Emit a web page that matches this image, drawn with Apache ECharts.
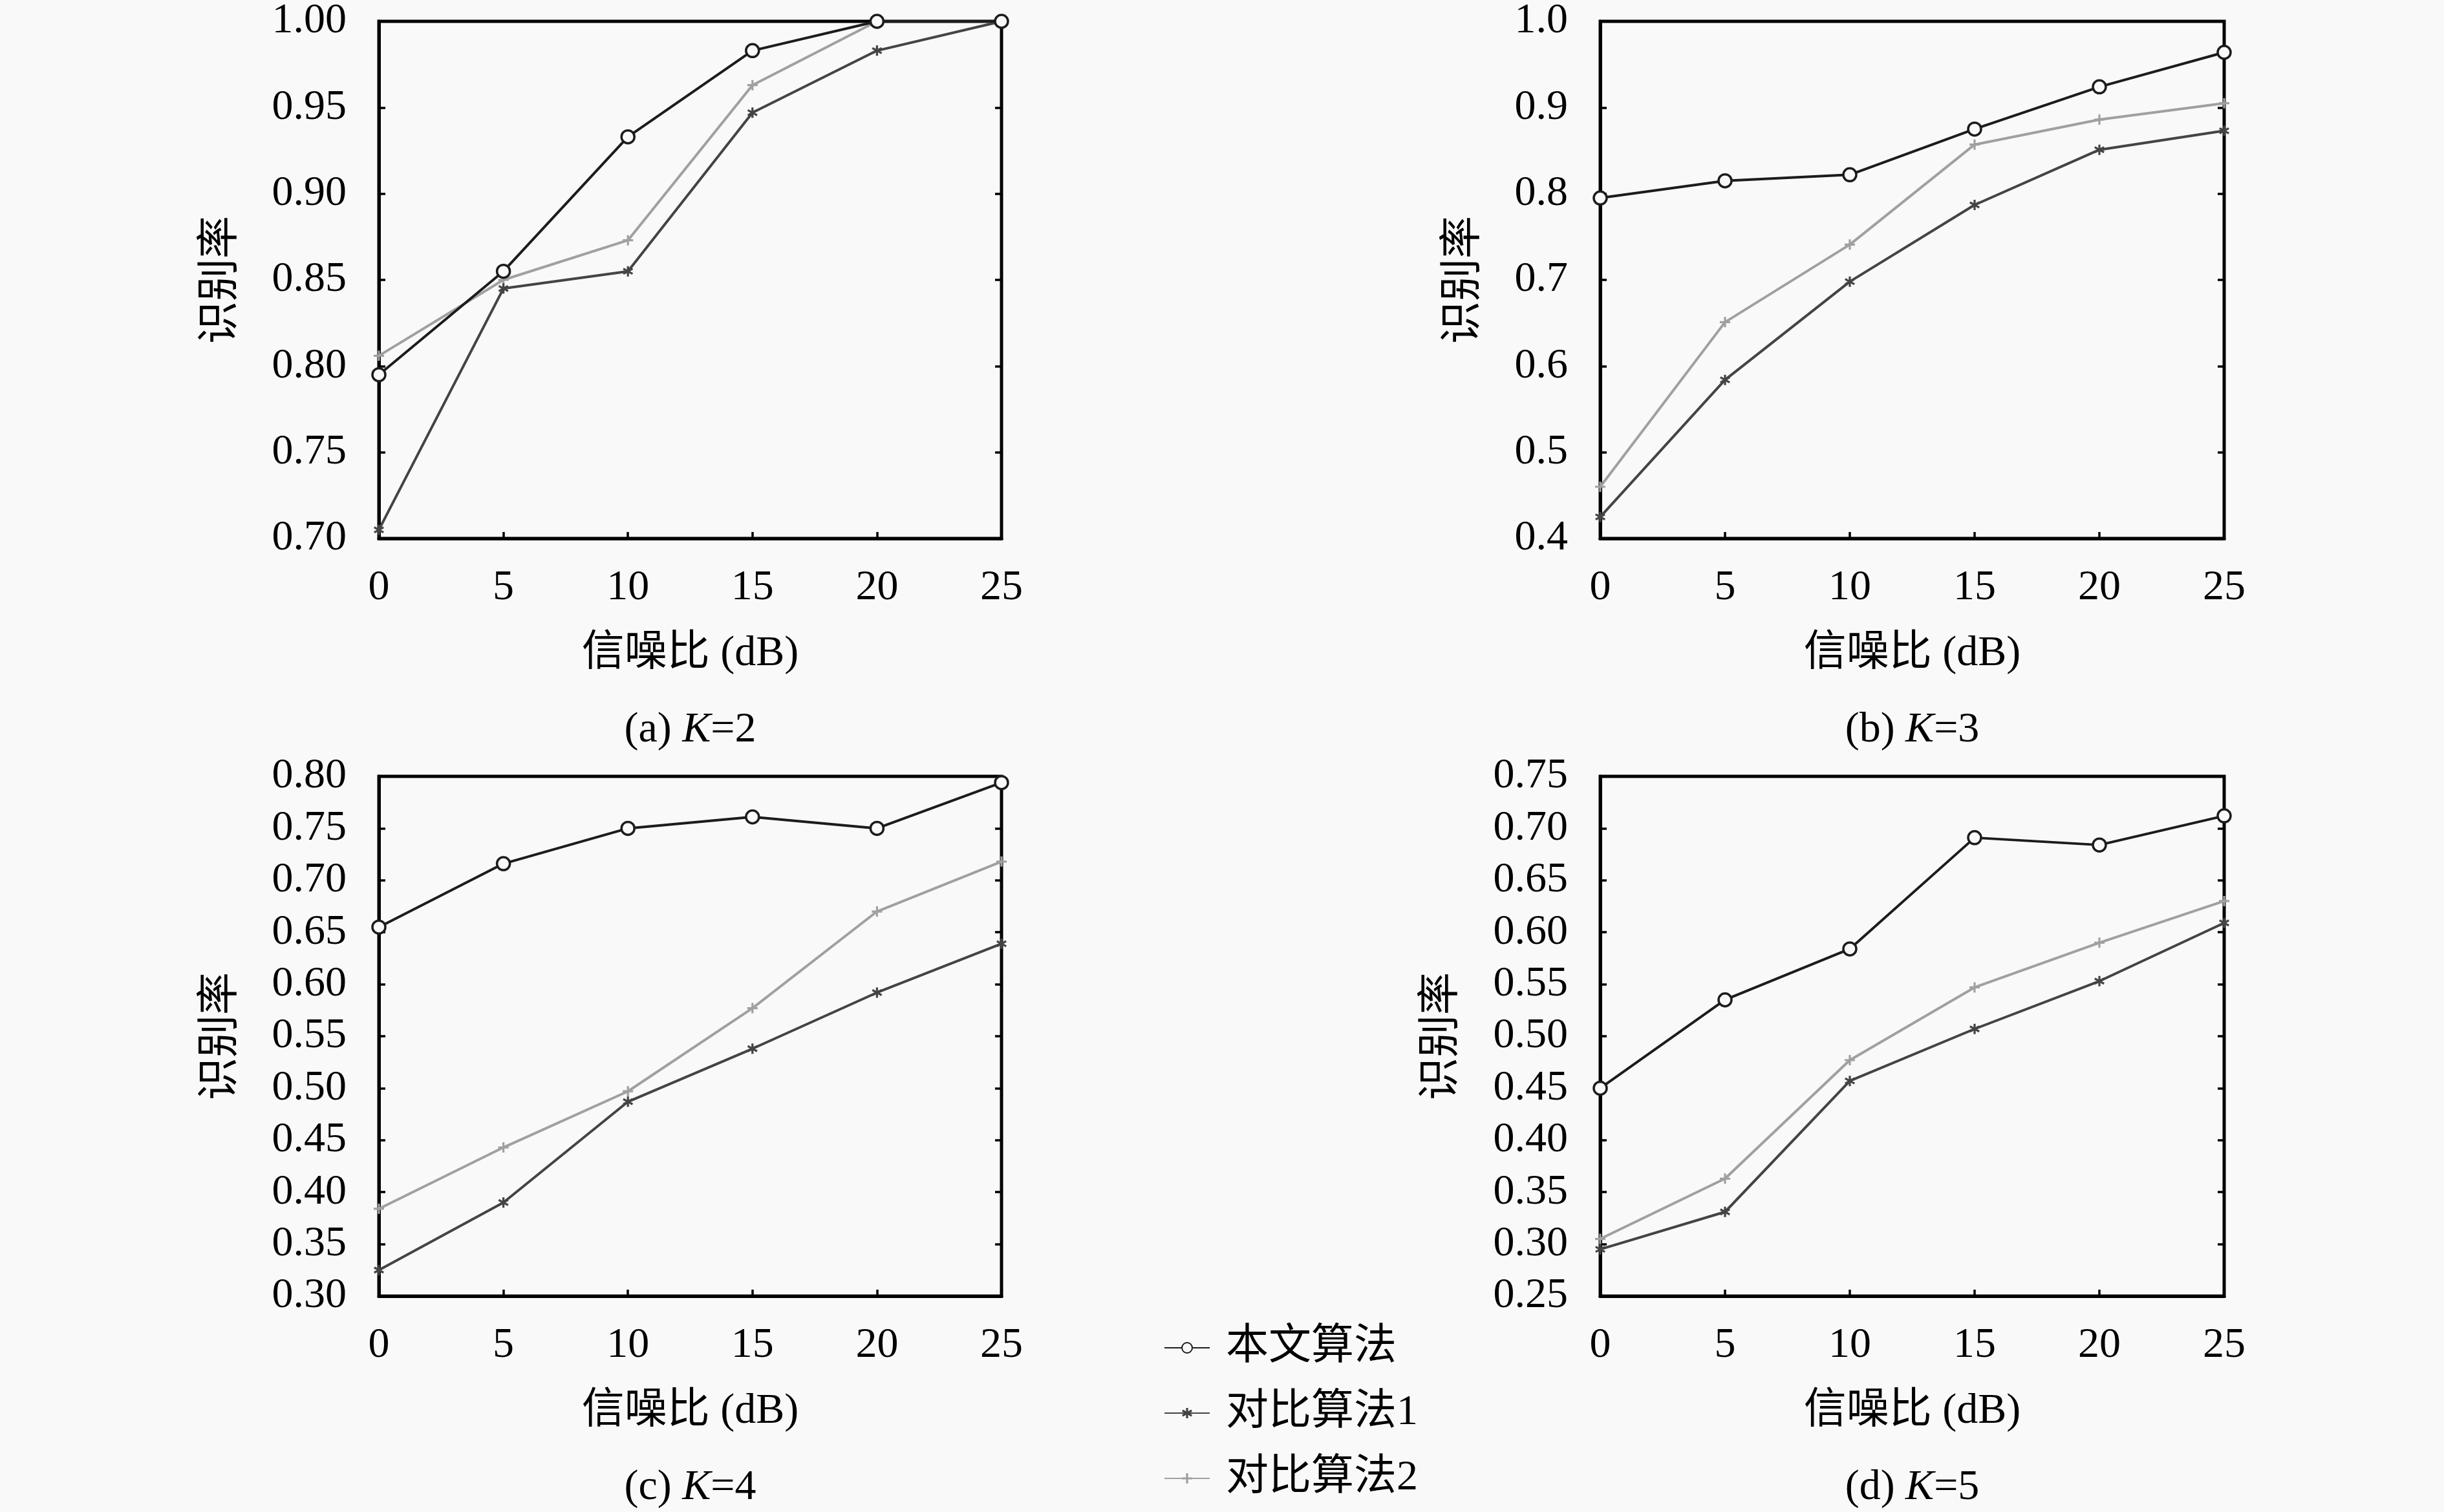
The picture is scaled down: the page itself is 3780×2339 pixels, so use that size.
<!DOCTYPE html>
<html>
<head>
<meta charset="utf-8">
<script src="https://cdn.jsdelivr.net/npm/echarts@6/dist/echarts.min.js"></script>
<style>
  html, body { margin: 0; padding: 0; background: #f9f9f9; }
  #chart { width: 3780px; height: 2339px; }
</style>
</head>
<body>
<div id="chart"></div>
<script>
// 横轴：信噪比
var snr = [0, 5, 10, 15, 20, 25]
var names = ['本文算法', '对比算法1', '对比算法2']

// (a) K=2
var oursK2 = [0.795, 0.855, 0.933, 0.983, 1.000, 1.000]
var cmp1K2 = [0.705, 0.845, 0.855, 0.947, 0.983, 1.000]
var cmp2K2 = [0.806, 0.850, 0.873, 0.963, 1.000, 1.000]
// (b) K=3
var oursK3 = [0.795, 0.815, 0.822, 0.875, 0.924, 0.964]
var cmp1K3 = [0.425, 0.584, 0.698, 0.787, 0.851, 0.873]
var cmp2K3 = [0.460, 0.651, 0.741, 0.857, 0.886, 0.905]
// (c) K=4
var oursK4 = [0.655, 0.716, 0.750, 0.761, 0.750, 0.794]
var cmp1K4 = [0.325, 0.390, 0.487, 0.538, 0.592, 0.639]
var cmp2K4 = [0.384, 0.443, 0.497, 0.577, 0.670, 0.718]
// (d) K=5
var oursK5 = [0.450, 0.535, 0.584, 0.691, 0.684, 0.712]
var cmp1K5 = [0.295, 0.331, 0.457, 0.507, 0.553, 0.609]
var cmp2K5 = [0.305, 0.363, 0.477, 0.547, 0.590, 0.630]

// 纵轴刻度
var yMin = [0.70, 0.4, 0.30, 0.25]
var yMax = [1.00, 1.0, 0.80, 0.75]
var yStep = [0.05, 0.1, 0.05, 0.05]
var yDigits = [2, 1, 2, 2]
var captions = [['(a) ', '=2'], ['(b) ', '=3'], ['(c) ', '=4'], ['(d) ', '=5']]

var panels = [
  [oursK2, cmp1K2, cmp2K2],
  [oursK3, cmp1K3, cmp2K3],
  [oursK4, cmp1K4, cmp2K4],
  [oursK5, cmp1K5, cmp2K5]
]

var serif = '"Liberation Serif", "Noto Sans CJK SC", serif'
var fs = 66

// 网格位置
var grids = [
  { left: 586, top: 29, width: 963, height: 804 },
  { left: 2475, top: 29, width: 965, height: 804 },
  { left: 586, top: 1201, width: 963, height: 804 },
  { left: 2475, top: 1201, width: 965, height: 804 }
]
var yNameGap = [210, 177, 210, 211]

var lineColors = ['#1c1c1c', '#444444', '#a0a0a0']
var asterisk = 'path://M4,0 H6 V3.3 L8.9,1.6 L9.9,3.4 L7,5 L9.9,6.6 L8.9,8.4 L6,6.7 V10 H4 V6.7 L1.1,8.4 L0.1,6.6 L3,5 L0.1,3.4 L1.1,1.6 L4,3.3 Z'
var plus = 'path://M4,0 H6 V4 H10 V6 H6 V10 H4 V6 H0 V4 H4 Z'

var grid = [], xAxis = [], yAxis = [], series = [], graphic = []

grids.forEach(function (g, i) {
  grid.push({ left: g.left, top: g.top, width: g.width, height: g.height, show: true,
    borderColor: '#000', borderWidth: 5, backgroundColor: 'transparent' })
  xAxis.push({
    type: 'value', gridIndex: i, min: 0, max: 25, interval: 5,
    name: '信噪比 (dB)', nameLocation: 'middle', nameGap: 146,
    nameTextStyle: { fontFamily: serif, fontSize: fs, color: '#000' },
    axisLine: { show: true, lineStyle: { color: '#000', width: 5 } },
    axisTick: { show: true, inside: true, length: 10, lineStyle: { color: '#000', width: 3.5 } },
    axisLabel: { fontFamily: serif, fontSize: fs, color: '#000', margin: 44 },
    splitLine: { show: false }
  })
  var d = yDigits[i]
  yAxis.push({
    type: 'value', gridIndex: i, min: yMin[i], max: yMax[i], interval: yStep[i],
    name: '识别率', nameLocation: 'middle', nameGap: yNameGap[i],
    nameTextStyle: { fontFamily: serif, fontSize: fs, color: '#000' },
    axisLine: { show: true, lineStyle: { color: '#000', width: 5 } },
    axisTick: { show: true, inside: true, length: 10, lineStyle: { color: '#000', width: 3.5 } },
    axisLabel: { fontFamily: serif, fontSize: fs, color: '#000', margin: 50,
      formatter: function (v) { return v.toFixed(d) } },
    splitLine: { show: false }
  })
  // 右侧刻度
  yAxis.push({
    type: 'value', gridIndex: i, position: 'right', min: yMin[i], max: yMax[i], interval: yStep[i],
    axisLine: { show: false },
    axisTick: { show: true, inside: true, length: 10, lineStyle: { color: '#000', width: 3.5 } },
    axisLabel: { show: false }, splitLine: { show: false }
  })
  var yIdx = i * 2
  var data = panels[i]
  series.push({
    name: names[0], type: 'line', xAxisIndex: i, yAxisIndex: yIdx, clip: false,
    data: snr.map(function (x, k) { return [x, data[0][k]] }),
    symbol: 'circle', symbolSize: 20, z: 4,
    lineStyle: { color: lineColors[0], width: 4 },
    itemStyle: { color: '#f9f9f9', borderColor: lineColors[0], borderWidth: 3.5 }
  })
  series.push({
    name: names[1], type: 'line', xAxisIndex: i, yAxisIndex: yIdx, clip: false,
    data: snr.map(function (x, k) { return [x, data[1][k]] }),
    symbol: asterisk, symbolSize: 16, z: 3,
    lineStyle: { color: lineColors[1], width: 4 },
    itemStyle: { color: lineColors[1] }
  })
  series.push({
    name: names[2], type: 'line', xAxisIndex: i, yAxisIndex: yIdx, clip: false,
    data: snr.map(function (x, k) { return [x, data[2][k]] }),
    symbol: plus, symbolSize: 16, z: 2,
    lineStyle: { color: lineColors[2], width: 4 },
    itemStyle: { color: lineColors[2] }
  })
  // 子图标题
  graphic.push({
    type: 'text', x: g.left + g.width / 2, y: g.top + g.height + 297,
    style: {
      text: captions[i][0] + '{k|K}' + captions[i][1],
      align: 'center', verticalAlign: 'middle',
      fontFamily: serif, fontSize: fs, fill: '#000',
      rich: { k: { fontFamily: serif, fontSize: fs, fontStyle: 'italic', fill: '#000' } }
    }
  })
})

var chart = echarts.init(document.getElementById('chart'))
chart.setOption({
  backgroundColor: '#f9f9f9',
  animation: false,
  grid: grid,
  xAxis: xAxis,
  yAxis: yAxis,
  series: series,
  graphic: graphic,
  legend: {
    data: names, orient: 'vertical', left: 1795, top: 2047,
    itemWidth: 70, itemHeight: 20, itemGap: 35,
    textStyle: { fontFamily: serif, fontSize: fs, color: '#000', padding: [0, 0, 0, 20] }
  }
})
</script>
</body>
</html>
